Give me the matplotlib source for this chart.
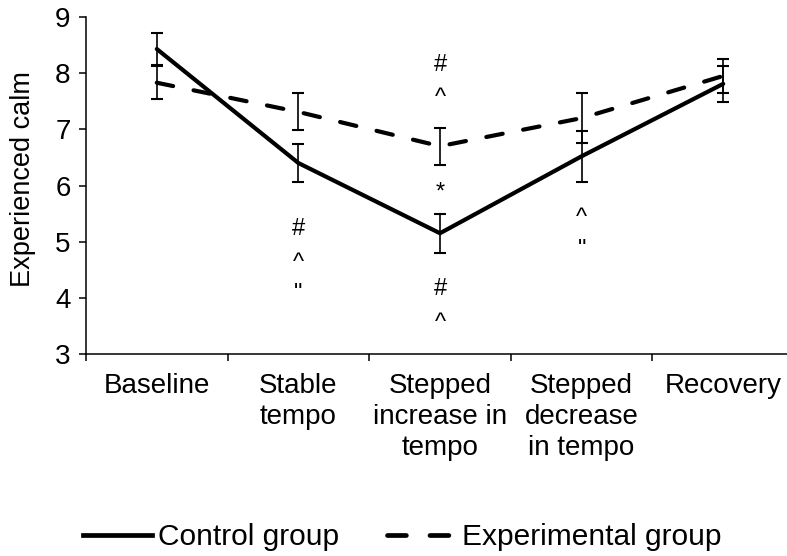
import numpy as np
import matplotlib
matplotlib.use("Agg")
import matplotlib.pyplot as plt
from matplotlib.lines import Line2D

plt.rcParams['font.family'] = ['Liberation Sans', 'DejaVu Sans']

# conditions along the x axis
phases = ['Baseline', 'Stable\ntempo', 'Stepped\nincrease in\ntempo',
          'Stepped\ndecrease\nin tempo', 'Recovery']

# mean experienced calm and error (SE) per group
control_mean = [8.43, 6.40, 5.15, 6.52, 7.81]
control_err = [0.29, 0.34, 0.35, 0.45, 0.32]
exp_mean = [7.83, 7.31, 6.70, 7.20, 7.95]
exp_err = [0.29, 0.33, 0.33, 0.44, 0.31]

# significance markers: (condition index, y value, symbol)
marks = [
    (1, 5.22, '#'), (1, 4.62, '^'), (1, 4.06, '"'),
    (2, 8.15, '#'), (2, 7.56, '^'), (2, 5.87, '*'),
    (2, 4.16, '#'), (2, 3.56, '^'),
    (3, 5.43, '^'), (3, 4.86, '"'),
]

W, H = 787, 556
fig = plt.figure(figsize=(W / 100, H / 100), dpi=100)
ax = fig.add_axes([86 / W, (H - 354) / H, 708 / W, 337 / H])

x = np.arange(len(phases)) + 0.5
dashed = (0, (4, 5))

ax.errorbar(x, control_mean, yerr=control_err, color='black', lw=3,
            solid_capstyle='round', ecolor='black', elinewidth=1.2,
            capsize=4.3, capthick=1.5)
ax.errorbar(x, exp_mean, yerr=exp_err, color='black', lw=3,
            linestyle=dashed, dash_capstyle='round', ecolor='black',
            elinewidth=1.2, capsize=4.3, capthick=1.5)

for i, y, s in marks:
    ax.text(x[i], y, s, ha='center', va='center', fontsize=17)

ax.set_xlim(0, len(phases))
ax.set_ylim(3, 9)
ax.set_yticks(range(3, 10))
ax.tick_params(axis='y', labelsize=20, direction='out', length=5,
               width=1.1, pad=6)

# category labels sit between the boundary ticks
ax.set_xticks(np.arange(len(phases) + 1))
ax.set_xticklabels([])
ax.set_xticks(x, minor=True)
ax.set_xticklabels(phases, minor=True, fontsize=20, ha='center',
                   multialignment='center', linespacing=1.25)
ax.tick_params(axis='x', which='major', direction='out', length=5, width=1.1)
ax.tick_params(axis='x', which='minor', length=0, pad=14)

for side in ['top', 'right']:
    ax.spines[side].set_visible(False)
for side in ['left', 'bottom']:
    ax.spines[side].set_linewidth(1.1)

ax.set_ylabel('Experienced calm', fontsize=19.5)
ax.yaxis.set_label_coords(-0.071, 0.52)

# plain line handles for the legend (no error bar caps)
handles = [Line2D([], [], color='black', lw=3.4),
           Line2D([], [], color='black', lw=3.4, linestyle=dashed,
                  dash_capstyle='round')]
fig.legend(handles, ['Control group', 'Experimental group'], loc='center',
           bbox_to_anchor=(0.511, 0.034), ncol=2, frameon=False,
           fontsize=21.5, handlelength=2.3, handletextpad=0.2,
           columnspacing=1.6, borderpad=0)

fig.savefig('out.png', dpi=100)
